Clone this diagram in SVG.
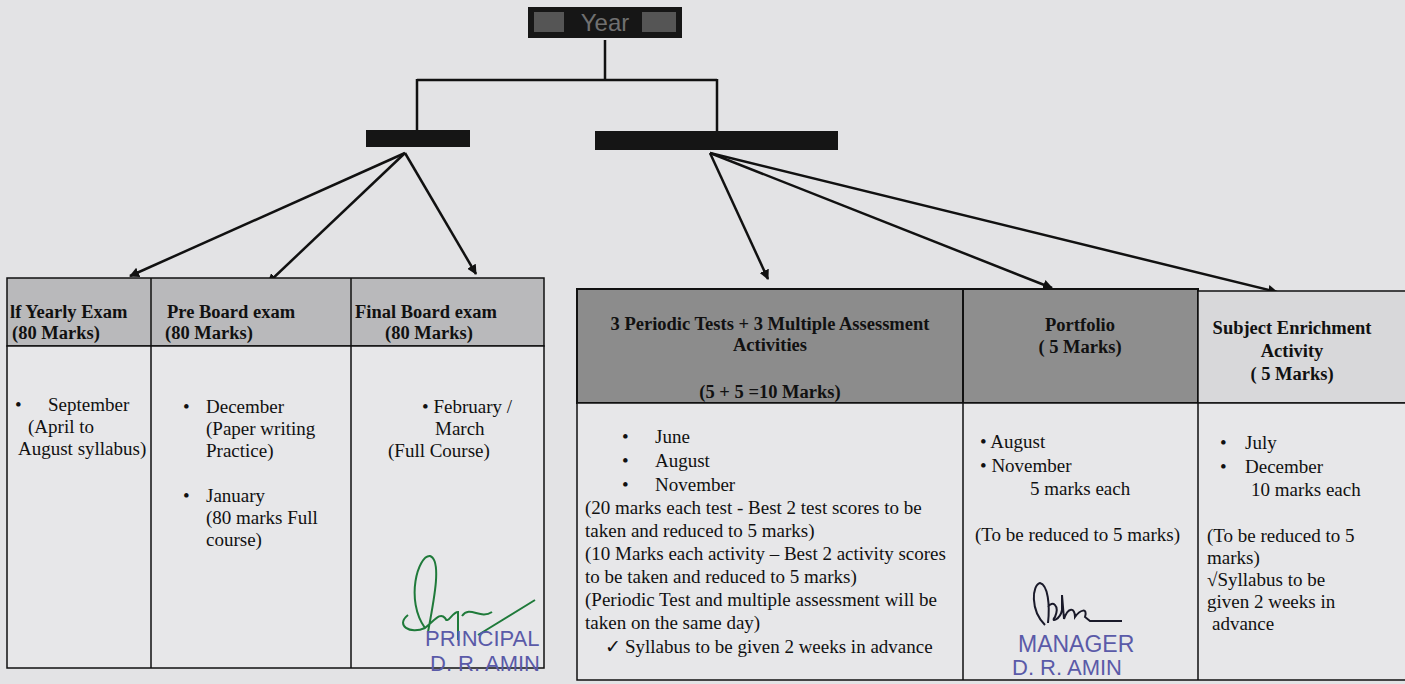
<svg xmlns="http://www.w3.org/2000/svg" width="1405" height="684" viewBox="0 0 1405 684">
<defs>
<marker id="ah" markerWidth="10" markerHeight="10" refX="9" refY="5" orient="auto" markerUnits="userSpaceOnUse">
<path d="M0,0 L10,5 L0,10 z" fill="#111"/>
</marker>
<style>
.t{font-family:"Liberation Serif","Times New Roman",serif;font-size:19px;fill:#111}
.b{font-family:"Liberation Serif","Times New Roman",serif;font-size:18.5px;font-weight:bold;fill:#111}
.c{text-anchor:middle}
.ln{stroke:#111;stroke-width:2.5;fill:none}
.ar{stroke:#111;stroke-width:2.5;fill:none;marker-end:url(#ah)}
.cell{fill:#e7e7e9;stroke:#111;stroke-width:1.5}
.stamp{font-family:"Liberation Sans",Arial,sans-serif;font-size:22px;fill:#5a5aa8}
</style>
</defs>
<rect width="1405" height="684" fill="#e3e3e5"/>

<g id="year">
<rect x="528" y="7" width="154" height="31" fill="#161616"/>
<rect x="534" y="12" width="30" height="20" fill="#555"/>
<rect x="642" y="12" width="34" height="20" fill="#555"/>
<text x="605" y="31" font-family="Liberation Sans,Arial,sans-serif" font-size="24" fill="#707070" text-anchor="middle">Year</text>
</g>

<g id="box-left"><rect x="366" y="130" width="104" height="17" fill="#151515"/></g>
<g id="box-right"><rect x="595" y="131" width="243" height="19" fill="#151515"/></g>

<g id="connectors">
<path class="ln" d="M605,40 V80 M417,80 H717 M417,79 V130 M717,79 V131"/>
<path class="ar" d="M405,153 L130,276"/>
<path class="ar" d="M405,153 L268,283"/>
<path class="ar" d="M405,153 L476,274"/>
<path class="ar" d="M710,153 L768,279"/>
<path class="ar" d="M710,153 L1052,288"/>
<path class="ar" d="M710,153 L1277,292"/>
</g>

<g id="table-left">
<rect x="7" y="278" width="537" height="68" fill="#b9b9bb" stroke="#111" stroke-width="1.5"/>
<rect class="cell" x="7" y="346" width="537" height="322"/>
<path class="ln" style="stroke-width:1.5" d="M151,278 V668 M351,278 V668"/>
</g>

<g id="half-yearly">
<text class="b" x="10" y="318">lf Yearly Exam</text>
<text class="b" x="12" y="339">(80 Marks)</text>
<text class="t" x="15" y="411">•</text>
<text class="t" x="48" y="411">September</text>
<text class="t" x="28" y="433">(April to</text>
<text class="t" x="18" y="455">August syllabus)</text>
</g>

<g id="pre-board">
<text class="b" x="167" y="318">Pre Board exam</text>
<text class="b" x="209" y="339" text-anchor="middle">(80 Marks)</text>
<text class="t" x="183" y="413">•</text>
<text class="t" x="206" y="413">December</text>
<text class="t" x="206" y="435">(Paper writing</text>
<text class="t" x="206" y="457">Practice)</text>
<text class="t" x="183" y="502">•</text>
<text class="t" x="206" y="502">January</text>
<text class="t" x="206" y="524">(80 marks Full</text>
<text class="t" x="206" y="546">course)</text>
</g>

<g id="final-board">
<text class="b" x="355" y="318">Final Board exam</text>
<text class="b" x="429" y="339" text-anchor="middle">(80 Marks)</text>
<text class="t" x="422" y="413">• February /</text>
<text class="t" x="435" y="435">March</text>
<text class="t" x="388" y="457">(Full Course)</text>
<path d="M425,628 C405,600 418,555 430,556 C442,560 434,600 428,632 M408,615 C395,625 410,635 425,628 C435,620 440,612 445,618 C448,625 452,612 458,612 L458,640 M462,616 C470,605 480,620 492,612 M478,635 L535,600" fill="none" stroke="#1f7a3a" stroke-width="2"/>
<text class="stamp" x="425" y="646">PRINCIPAL</text>
<text class="stamp" x="430" y="671">D. R. AMIN</text>
</g>

<g id="table-right">
<rect x="577" y="289" width="386" height="114" fill="#8c8c8c" stroke="#111" stroke-width="2"/>
<rect x="963" y="289" width="235" height="114" fill="#8e8e8e" stroke="#111" stroke-width="2"/>
<rect x="1198" y="291" width="210" height="112" fill="#d8d8da" stroke="#111" stroke-width="1.5"/>
<rect class="cell" x="577" y="403" width="831" height="277"/>
<path class="ln" style="stroke-width:1.5" d="M963,403 V680 M1198,403 V680"/>
</g>

<g id="periodic-tests">
<text class="b c" x="770" y="330">3 Periodic Tests + 3 Multiple Assessment</text>
<text class="b c" x="770" y="351">Activities</text>
<text class="b c" x="770" y="398">(5 + 5 =10 Marks)</text>
<text class="t" x="622" y="443">•</text>
<text class="t" x="655" y="443">June</text>
<text class="t" x="622" y="467">•</text>
<text class="t" x="655" y="467">August</text>
<text class="t" x="622" y="491">•</text>
<text class="t" x="655" y="491">November</text>
<text class="t" x="585" y="514">(20 marks each test - Best 2 test scores to be</text>
<text class="t" x="585" y="537">taken and reduced to 5 marks)</text>
<text class="t" x="585" y="560">(10 Marks each activity – Best 2 activity scores</text>
<text class="t" x="585" y="583">to be taken and reduced to 5 marks)</text>
<text class="t" x="585" y="606">(Periodic Test and multiple assessment will be</text>
<text class="t" x="585" y="629">taken on the same day)</text>
<text class="t" x="605" y="653">✓</text>
<text class="t" x="625" y="653">Syllabus to be given 2 weeks in advance</text>
</g>

<g id="portfolio">
<text class="b c" x="1080" y="331">Portfolio</text>
<text class="b c" x="1080" y="353">( 5 Marks)</text>
<text class="t" x="980" y="448">• August</text>
<text class="t" x="980" y="472">• November</text>
<text class="t" x="1030" y="495">5 marks each</text>
<text class="t" x="975" y="541">(To be reduced to 5 marks)</text>
<path d="M1045,625 C1030,610 1032,585 1040,583 C1048,585 1050,605 1048,623 M1048,607 C1052,600 1060,605 1055,617 C1050,623 1060,620 1062,610 L1062,595 L1064,619 C1068,607 1075,607 1075,617 C1080,610 1088,607 1085,617 L1090,621 L1122,621" fill="none" stroke="#1a1a2a" stroke-width="2"/>
<text class="stamp" x="1018" y="652" style="font-size:23px">MANAGER</text>
<text class="stamp" x="1012" y="675" style="font-size:22px">D. R. AMIN</text>
</g>

<g id="enrichment">
<text class="b c" x="1292" y="334">Subject Enrichment</text>
<text class="b c" x="1292" y="357">Activity</text>
<text class="b c" x="1292" y="380">( 5 Marks)</text>
<text class="t" x="1220" y="449">•</text>
<text class="t" x="1245" y="449">July</text>
<text class="t" x="1220" y="473">•</text>
<text class="t" x="1245" y="473">December</text>
<text class="t" x="1251" y="496">10 marks each</text>
<text class="t" x="1207" y="542">(To be reduced to 5</text>
<text class="t" x="1207" y="564">marks)</text>
<text class="t" x="1207" y="586">√Syllabus to be</text>
<text class="t" x="1207" y="608">given 2 weeks in</text>
<text class="t" x="1212" y="630">advance</text>
</g>
</svg>
